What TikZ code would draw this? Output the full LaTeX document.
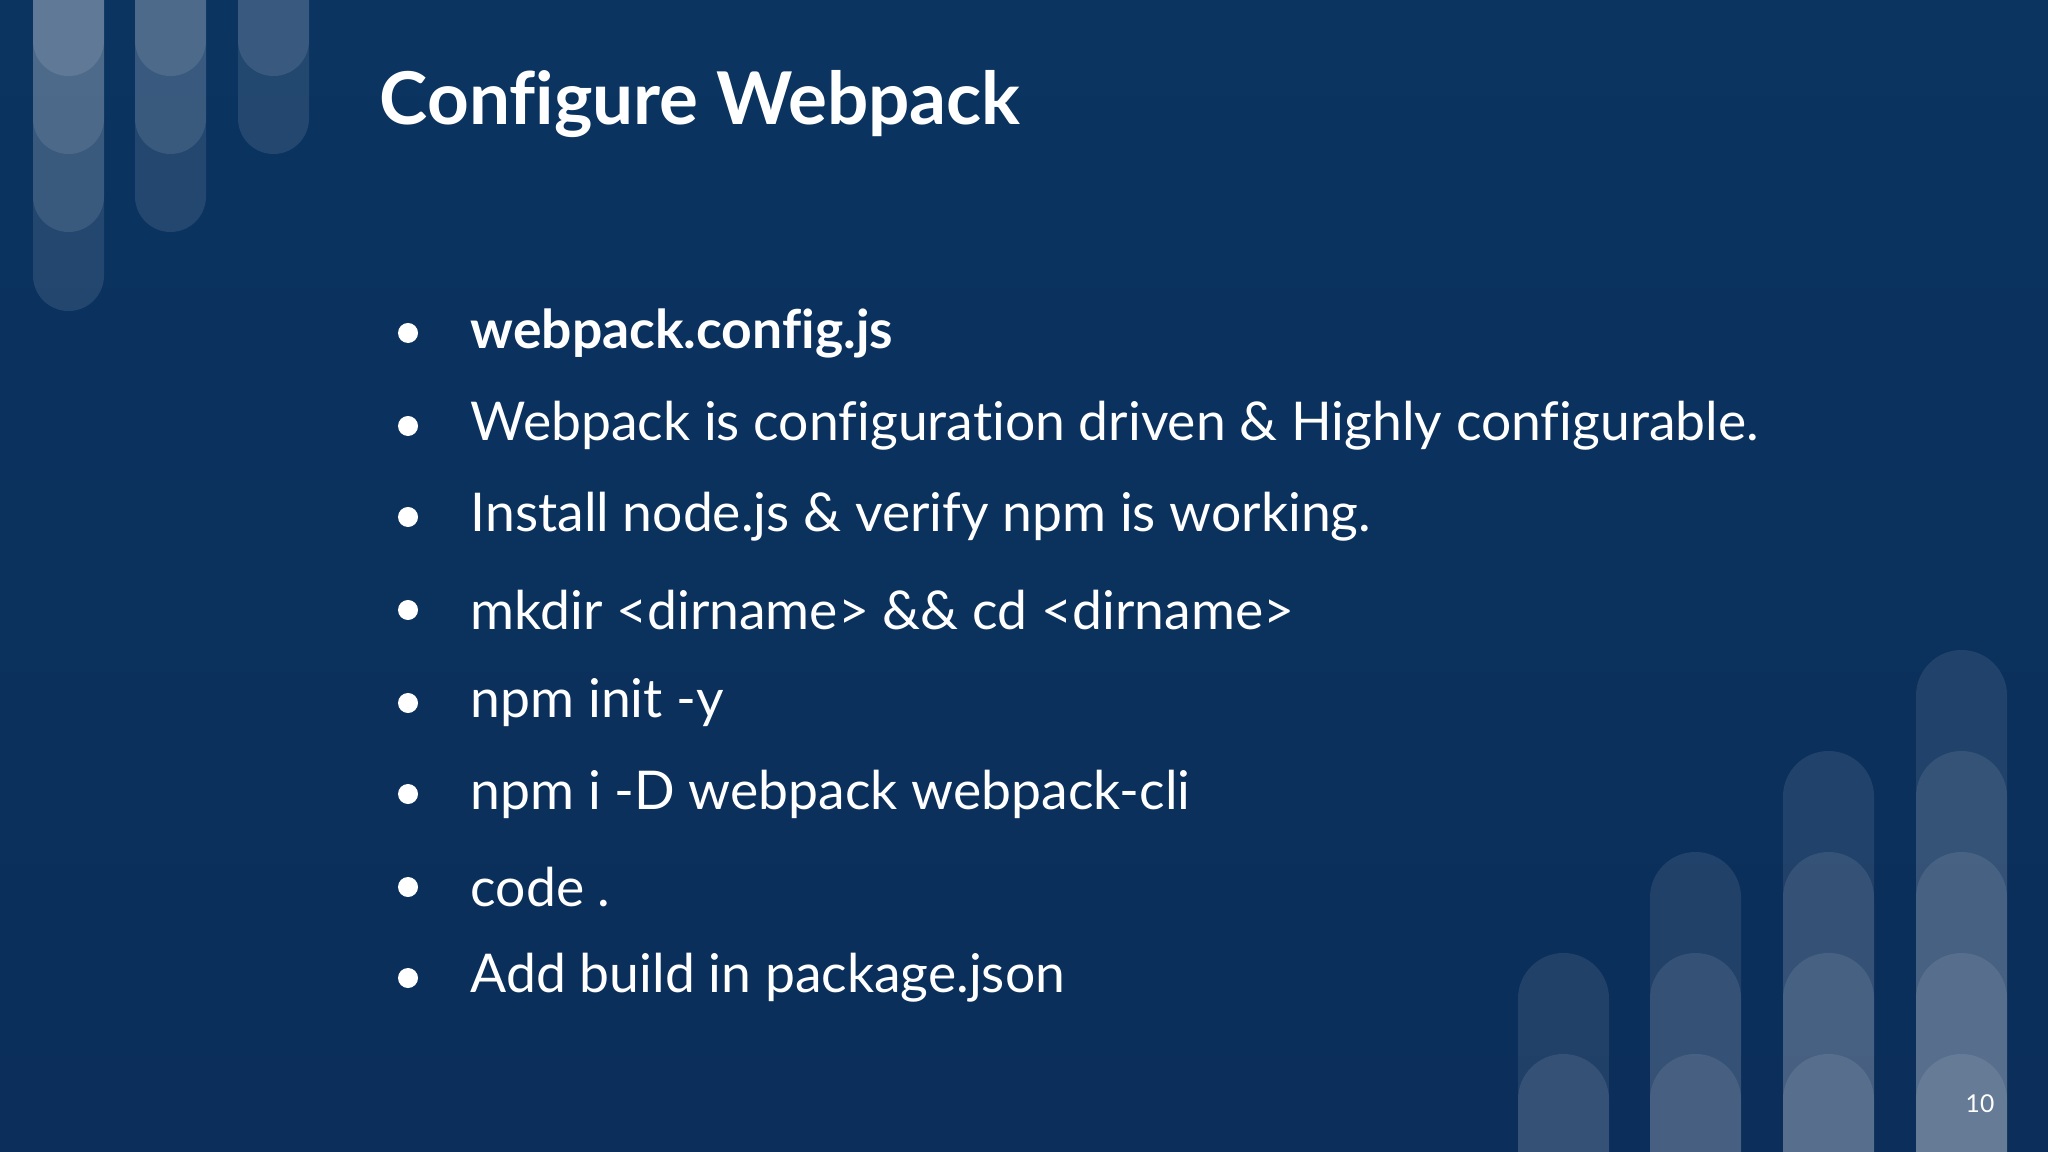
\documentclass[tikz,border=0pt]{standalone}
\usepackage{fontspec}
\setmainfont{Lato}[RawFeature={-liga}]
\begin{document}
\begin{tikzpicture}[x=0.01cm,y=-0.01cm,
  txt/.style={anchor=west,text=white,font=\fontsize{15.2}{17}\selectfont,inner sep=0},
  dot/.style={circle,fill=white,minimum size=0.2cm,inner sep=0}]
\useasboundingbox (0,0) rectangle (2048,1152);
\shade[top color={rgb,255:red,11;green,52;blue,96},bottom color={rgb,255:red,11;green,46;blue,90}] (0,0) rectangle (2048,1152);
\begin{scope}
\clip (0,0) rectangle (2048,1152);
% left columns
\foreach \x/\bs in {33/{76,154,232,311},135/{76,154,232},238/{76,154}}{
  \foreach \b in \bs {\fill[white,opacity=0.1,rounded corners=0.355cm] (\x,-100) rectangle (\x+71,\b);}}
% right columns
\foreach \x/\ts in {1518/{953,1054},1650/{852,953,1054},1783/{751,852,953,1054},1916/{650,751,852,953,1054}}{
  \foreach \t in \ts {\fill[white,opacity=0.09,rounded corners=0.455cm] (\x,\t) rectangle (\x+91,1300);}}
\end{scope}
\node[anchor=west,text=white,font=\fontsize{20.7}{24}\selectfont\bfseries,inner sep=0] (title) at (379,104) {Configure Webpack};
\foreach \y/\t [count=\i] in {333/{\textbf{webpack.config.js}},426/{Webpack is configuration driven \& Highly configurable.},517/{Install node.js \& verify npm is working.},610/{mkdir <dirname> \&\& cd <dirname>},703/{npm init -y},794/{npm i -D webpack webpack-cli},887/{code .},978/{Add build in package.json}}{
  \node[dot] (d\i) at (408,\y) {};
  \node[txt] (t\i) at (470,\y) {\t};}
\node[text=white,font=\fontsize{7}{8}\selectfont,inner sep=0] (pg) at (1980,1104) {10};
\end{tikzpicture}
\end{document}
